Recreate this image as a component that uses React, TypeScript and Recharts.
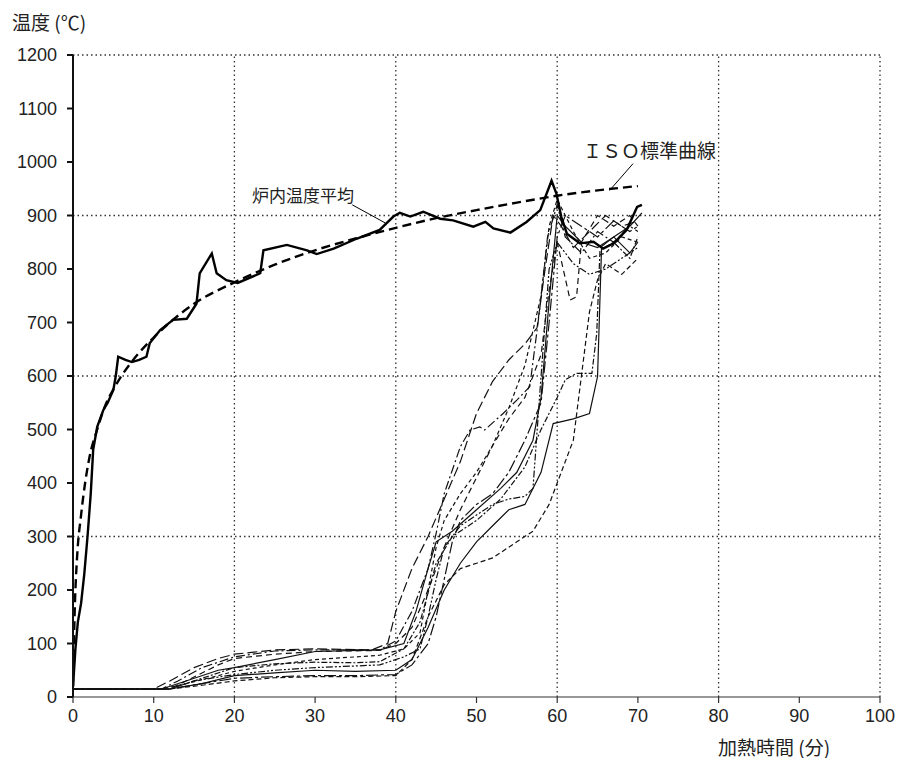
import { LineChart, Line, XAxis, YAxis, ReferenceLine } from 'recharts'

type Pt = [number, number]

const xTicks = [0, 10, 20, 30, 40, 50, 60, 70, 80, 90, 100]
const yTicks = [0, 100, 200, 300, 400, 500, 600, 700, 800, 900, 1000, 1100, 1200]
const gridX = [20, 40, 60, 80, 100]
const gridY = [300, 600, 900, 1200]

// 炉内温度平均
const furnaceAvg: Pt[] = [
  [0, 20], [0.3, 90], [0.6, 140], [1, 175], [1.4, 230], [1.8, 300], [2.2, 380], [2.5, 462],
  [3, 505], [3.75, 536], [4.3, 550], [5, 574], [5.3, 600], [5.6, 636], [6.5, 630], [7.3, 626],
  [8.2, 630], [9.1, 636], [9.5, 661], [10.8, 686], [12.4, 705], [14.1, 707], [15.3, 735],
  [15.7, 792], [17.2, 829], [17.8, 792], [19, 779], [20.4, 774], [23.2, 792], [23.6, 835],
  [26.5, 845], [29, 835], [30.2, 828], [32.3, 838], [35.2, 857], [38, 873], [39.7, 898],
  [40.5, 905], [41.8, 898], [43.4, 907], [45.5, 894], [47.1, 891], [49.6, 879], [51.1, 888],
  [52.1, 876], [54.2, 868], [56.2, 888], [57.9, 910], [59.3, 965], [59.9, 941], [60.5, 898],
  [61.2, 866], [62.8, 848], [64.5, 851], [65.7, 838], [67, 848], [68.6, 873], [69.9, 916], [70.5, 920],
]

// ISO標準曲線
const isoCurve: Pt[] = [
  [0, 20], [0.25, 180], [0.5, 260], [1, 340], [1.5, 400], [2, 445], [3, 500], [4, 545], [5, 575],
  [6, 600], [8, 640], [10, 672], [12, 700], [15, 735], [20, 775], [25, 808], [30, 835], [35, 857],
  [40, 877], [45, 895], [50, 910], [55, 924], [60, 937], [65, 947], [70, 955],
]

// 熱電対 (各測点)
const tc1: Pt[] = [
  [0, 15], [10, 15], [12, 30], [15, 55], [18, 72], [20, 80], [25, 88], [30, 90], [37, 88], [39, 100],
  [40, 160], [42, 240], [44, 300], [46, 370], [48, 440], [50, 530], [52, 590], [54, 630], [56, 660],
  [57.5, 690], [58.5, 800], [59.5, 900], [60.5, 880], [62, 840], [64, 870], [66, 900], [68, 880], [70, 890],
]
const tc2: Pt[] = [
  [0, 15], [11, 15], [13, 30], [16, 55], [20, 75], [25, 86], [30, 88], [38, 88], [40, 105], [42, 160],
  [44, 240], [45, 306], [46, 380], [48, 468], [49.2, 499], [50.4, 505], [51, 499], [53.3, 530],
  [55, 555], [56.6, 580], [57.8, 720], [58.8, 860], [60, 920], [61, 860], [63, 830], [65, 870],
  [67, 850], [69, 880], [70, 870],
]
const tc3: Pt[] = [
  [0, 15], [11, 15], [14, 30], [18, 50], [20, 55], [25, 70], [30, 85], [38, 88], [41, 100], [42.5, 160],
  [44, 240], [45, 290], [47, 310], [50, 350], [53, 390], [55, 420], [57, 480], [58, 560], [59, 740],
  [60, 900], [61, 880], [63, 850], [65, 840], [67, 860], [69, 830], [70, 850],
]
const tc4: Pt[] = [
  [0, 15], [11, 15], [14, 25], [18, 40], [20, 48], [25, 60], [30, 70], [35, 75], [38, 78], [41, 90],
  [43, 120], [44, 200], [45, 280], [46, 330], [48, 380], [50, 420], [52, 470], [54, 540], [56, 620],
  [58, 750], [59, 880], [60, 930], [62, 870], [64, 820], [66, 830], [68, 860], [70, 850],
]
const tc5: Pt[] = [
  [0, 15], [12, 15], [15, 30], [20, 42], [25, 50], [30, 55], [35, 58], [38, 60], [41, 75], [43, 90],
  [44, 150], [45, 220], [46, 280], [48, 320], [50, 340], [52, 360], [54, 370], [56, 375], [57, 390],
  [58, 600], [59, 800], [60, 850], [62, 810], [64, 790], [66, 800], [68, 820], [70, 840],
]
const tc6: Pt[] = [
  [0, 15], [12, 15], [16, 25], [20, 35], [25, 38], [30, 40], [35, 40], [40, 42], [42, 60], [44, 100],
  [45, 150], [46, 220], [47, 290], [48, 330], [50, 360], [52, 380], [54, 420], [56, 480], [58, 550],
  [59, 700], [60, 860], [61, 900], [63, 880], [65, 860], [67, 890], [69, 870], [70, 880],
]
const tc7: Pt[] = [
  [0, 15], [12, 15], [16, 22], [20, 30], [25, 36], [30, 38], [35, 38], [40, 40], [42, 70], [44, 150],
  [46, 210], [48, 240], [50, 250], [52, 260], [55, 290], [57, 310], [59, 360], [60.5, 420], [62, 480],
  [63, 600], [64, 720], [65, 780], [66, 810], [68, 790], [70, 820],
]
const tc8: Pt[] = [
  [0, 15], [12, 15], [16, 25], [20, 40], [25, 45], [30, 50], [35, 48], [40, 50], [42, 70], [44, 130],
  [46, 200], [48, 250], [50, 290], [52, 320], [54, 350], [56, 360], [58, 420], [59.5, 511], [62, 520],
  [64, 530], [65, 599], [65.5, 842], [67, 860], [69, 880], [70.5, 905],
]
const tc9: Pt[] = [
  [0, 15], [12, 15], [15, 30], [20, 55], [25, 62], [30, 65], [35, 64], [38, 66], [41, 90], [43, 140],
  [45, 250], [47, 300], [50, 330], [53, 370], [56, 430], [58, 500], [60, 560], [61, 593], [62.4, 605],
  [64.3, 605], [64.9, 680], [65.3, 835], [67, 850], [69, 820], [70, 860],
]
const tc10: Pt[] = [
  [0, 15], [12, 15], [14, 30], [18, 60], [20, 72], [25, 80], [30, 85], [38, 87], [40, 100], [42, 130],
  [44, 200], [46, 280], [48, 350], [50, 410], [52, 470], [54, 520], [56, 560], [58, 640], [59, 760],
  [60, 850], [61.6, 742], [62.4, 748], [63, 850], [65, 900], [67, 880], [69, 900], [70, 880],
]

const toRows = (pts: Pt[]) => pts.map(([x, y]) => ({ x, y }))

const thermo = [
  { key: 'tc1', pts: tc1, dash: '10 4' },
  { key: 'tc2', pts: tc2, dash: '9 3 2 3' },
  { key: 'tc3', pts: tc3, dash: undefined },
  { key: 'tc4', pts: tc4, dash: '4 3' },
  { key: 'tc5', pts: tc5, dash: '7 2 2 2 2 2' },
  { key: 'tc6', pts: tc6, dash: '12 3 3 3' },
  { key: 'tc7', pts: tc7, dash: '5 3' },
  { key: 'tc8', pts: tc8, dash: undefined },
  { key: 'tc9', pts: tc9, dash: '6 2 2 2' },
  { key: 'tc10', pts: tc10, dash: '6 4' },
]

const tickStyle = { fontFamily: '"Liberation Sans", Arial, sans-serif', fontSize: 18, fill: '#222' }
const jpFont = '"Noto Sans CJK JP", sans-serif'

export default function App() {
  return (
    <div style={{ position: 'relative', width: 900, height: 750, background: '#fff' }}>
      <LineChart width={900} height={750} margin={{ top: 47, right: 28, bottom: 31, left: 5 }}>
        <XAxis
          type="number"
          dataKey="x"
          domain={[0, 100]}
          ticks={xTicks}
          allowDataOverflow
          tick={tickStyle}
          tickSize={6}
          tickMargin={6}
          height={30}
          stroke="#333"
          strokeWidth={1.2}
        />
        <YAxis
          type="number"
          dataKey="y"
          domain={[0, 1200]}
          ticks={yTicks}
          tick={tickStyle}
          tickSize={6}
          tickMargin={10}
          width={60}
          stroke="#111"
          strokeWidth={2}
        />
        {gridX.map((v) => (
          <ReferenceLine key={'gx' + v} x={v} stroke="#333" strokeWidth={1.3} strokeDasharray="1.5 3" />
        ))}
        {gridY.map((v) => (
          <ReferenceLine key={'gy' + v} y={v} stroke="#333" strokeWidth={1.3} strokeDasharray="1.5 3" />
        ))}
        {thermo.map((t) => (
          <Line
            key={t.key}
            data={toRows(t.pts)}
            dataKey="y"
            type="linear"
            stroke="#111"
            strokeWidth={1.2}
            strokeDasharray={t.dash}
            dot={false}
            isAnimationActive={false}
          />
        ))}
        <Line
          data={toRows(isoCurve)}
          dataKey="y"
          type="monotone"
          stroke="#000"
          strokeWidth={2.4}
          strokeDasharray="9 5"
          dot={false}
          isAnimationActive={false}
        />
        <Line
          data={toRows(furnaceAvg)}
          dataKey="y"
          type="linear"
          stroke="#000"
          strokeWidth={2.4}
          dot={false}
          isAnimationActive={false}
        />
        <ReferenceLine
          segment={[{ x: 34.6, y: 920 }, { x: 38.7, y: 886 }]}
          stroke="#000"
          strokeWidth={1}
        />
        <ReferenceLine
          segment={[{ x: 69.4, y: 997 }, { x: 66.5, y: 947 }]}
          stroke="#000"
          strokeWidth={1}
        />
      </LineChart>
      <div style={{ position: 'absolute', left: 4, top: 0, fontFamily: jpFont, fontSize: 19, color: '#222' }}>
        温度 (℃)
      </div>
      <div
        style={{
          position: 'absolute',
          left: 710,
          top: 728,
          fontFamily: jpFont,
          fontSize: 19,
          lineHeight: '22px',
          color: '#222',
          whiteSpace: 'nowrap',
        }}
      >
        加熱時間 (分)
      </div>
      <div style={{ position: 'absolute', left: 244, top: 174, fontFamily: jpFont, fontSize: 17, color: '#222' }}>
        炉内温度平均
      </div>
      <div style={{ position: 'absolute', left: 575, top: 128, fontFamily: jpFont, fontSize: 19, color: '#222' }}>
        ＩＳＯ標準曲線
      </div>
    </div>
  )
}
